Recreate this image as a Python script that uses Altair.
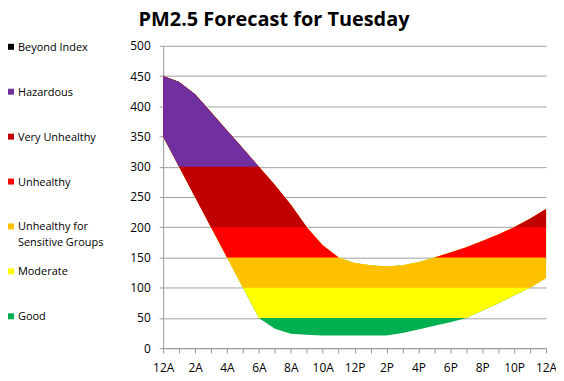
import altair as alt
import pandas as pd

hours = list(range(25))
upper = [450, 440, 420, 390, 360, 330, 300, 270, 237, 200, 170, 150, 141, 137, 135,
         137, 142, 150, 158, 167, 177, 188, 200, 214, 230]
lower = [350, 300, 250, 200, 150, 100, 50, 32, 24, 22, 21, 21, 21, 21, 21,
         25, 31, 37, 43, 50, 62, 74, 87, 100, 116]

tick_labels = ["12A", "", "2A", "", "4A", "", "6A", "", "8A", "", "10A", "", "12P",
               "", "2P", "", "4P", "", "6P", "", "8P", "", "10P", "", "12A"]

band_names = ["Good", "Moderate", "Unhealthy for\nSensitive Groups", "Unhealthy",
              "Very Unhealthy", "Hazardous", "Beyond Index"]
band_lo = [0, 50, 100, 150, 200, 300, 500]
band_colors = ["#00B050", "#FFFF00", "#FFC000", "#FF0000", "#C00000", "#7030A0", "#000000"]

rows = []
for name, lo in zip(band_names, band_lo):
    for h, u, l in zip(hours, upper, lower):
        y0 = max(l, lo)
        y1 = max(u, y0)
        rows.append({"band": name, "hour": h, "y0": y0, "y1": y1})
df = pd.DataFrame(rows)

label_expr = "[" + ",".join("'%s'" % t for t in tick_labels) + "][datum.value]"

x_enc = alt.X("hour:Q", scale=alt.Scale(domain=[0, 24], nice=False),
              axis=alt.Axis(values=hours, labelExpr=label_expr, title=None, grid=False,
                            tickSize=5, tickColor="#999999", domainColor="#999999",
                            labelFlush=False, labelOverlap=False, labelBound=False,
                            labelPadding=9, labelFont="Open Sans", labelFontSize=12,
                            labelColor="#000000"))
y_enc = alt.Y("y0:Q", scale=alt.Scale(domain=[0, 500], nice=False),
              axis=alt.Axis(values=list(range(0, 501, 50)), title=None, grid=True,
                            gridColor="#a0a0a0", tickSize=4, tickColor="#999999",
                            domainColor="#999999", labelPadding=9, labelFont="Open Sans",
                            labelFontSize=12, labelColor="#000000"))

layers = []
for name, color in zip(band_names, band_colors):
    sub = df[df["band"] == name]
    if (sub["y1"] > sub["y0"]).any():
        layers.append(
            alt.Chart(sub).mark_area(color=color, opacity=1).encode(
                x=x_enc, y=y_enc, y2="y1:Q"
            )
        )

legend_df = pd.DataFrame({"band": band_names[::-1], "color": band_colors[::-1]})
leg_y = alt.Y("band:N", sort=band_names[::-1],
              scale=alt.Scale(type="point", range=[1, 272], padding=0), axis=None)
legend_sq = alt.Chart(legend_df).mark_square(size=36, opacity=1).encode(
    x=alt.value(-153), y=leg_y,
    color=alt.Color("color:N", scale=None, legend=None))
legend_tx = alt.Chart(legend_df).mark_text(
    align="left", baseline="alphabetic", dy=4, lineBreak="\n", lineHeight=16,
    font="Open Sans", fontSize=11, color="#000000").encode(
    x=alt.value(-146), y=leg_y, text="band:N")

main = alt.layer(*layers)
legend = alt.layer(legend_sq, legend_tx)

chart = alt.layer(main, legend).resolve_scale(y="independent").properties(
    width=385, height=304,
    autosize=alt.AutoSizeParams(type="none"),
    padding={"left": 156, "top": 37, "right": 10, "bottom": 30},
    title=alt.TitleParams("PM2.5 Forecast for Tuesday", font="Open Sans", fontSize=20,
                          fontWeight="bold", anchor="middle", dx=-81, dy=-6,
                          color="#000000"),
).configure_view(stroke=None)

chart.save("out.html", embed_options={"renderer": "svg", "actions": False})
